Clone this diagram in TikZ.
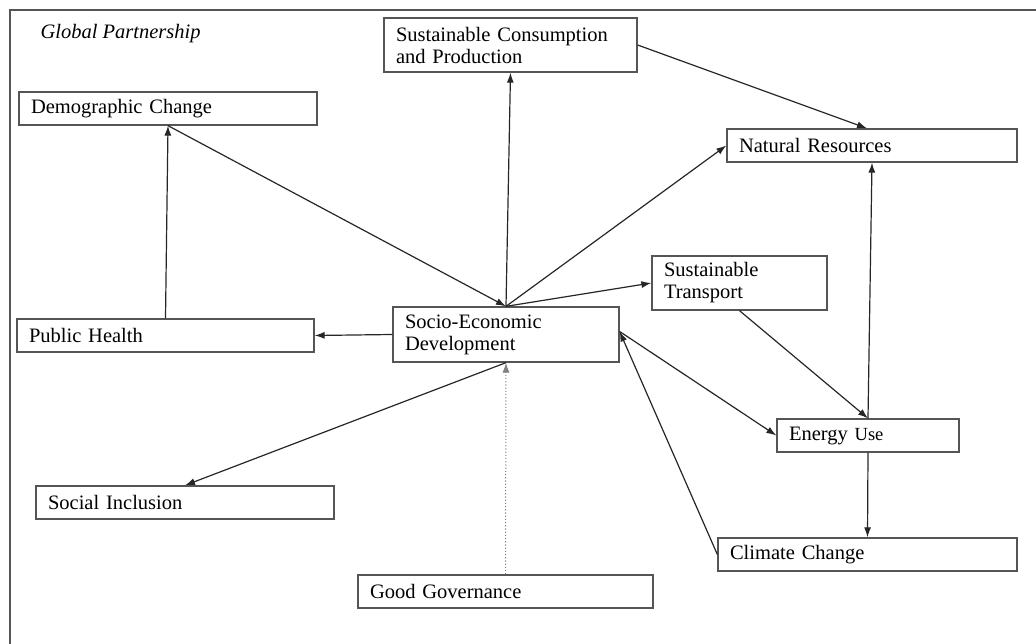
\documentclass[tikz,border=0pt]{standalone}
\usepackage{fontspec}
\setmainfont{Liberation Serif}
\usetikzlibrary{arrows.meta}
\definecolor{boxgray}{HTML}{555555}
\tikzset{
  box/.style={draw=boxgray, line width=1.3pt, inner xsep=12pt, inner ysep=0pt, align=left,
    font=\fontsize{20.5}{22}\selectfont},
  conn/.style={line width=1.2pt, draw=black!85, -{Latex[length=10pt,width=7pt]}},
}
\newcommand{\bx}[7]{% name, x1, y1, x2, y2, text
  \pgfmathsetmacro{\cxx}{(#2+#4)/2}\pgfmathsetmacro{\cyy}{(#3+#5)/2}%
  \pgfmathsetmacro{\ww}{#4-#2}\pgfmathsetmacro{\hh}{#5-#3}\pgfmathsetmacro{\tw}{#4-#2-24}%
  \node[box, minimum width=\ww pt, minimum height=\hh pt, text width=\tw pt] (#1) at (\cxx,\cyy) {#6};}
\begin{document}
\begin{tikzpicture}[x=1pt,y=-1pt]
\useasboundingbox (0,0) rectangle (1036,644);
\draw[boxgray, line width=1.3pt] (10,650) -- (10,10) -- (1040,10);
\node[font=\fontsize{20.5}{22}\selectfont\itshape, anchor=west] (gp) at (37,34) {Global Partnership};
\bx{scp}{384}{18}{637}{72}{Sustainable Consumption\\and Production}{}
\bx{dc}{19}{92}{317}{125}{Demographic Change}{}
\bx{nr}{727}{129}{1017}{162}{Natural Resources}{}
\bx{st}{652}{256}{827}{310}{Sustainable\\Transport}{}
\bx{sed}{393}{307}{619}{362}{Socio-Economic\\Development}{}
\bx{ph}{17}{319}{314}{352}{Public Health}{}
\bx{si}{36}{486}{334}{519}{Social Inclusion}{}
\bx{gg}{358}{575}{653}{608}{Good Governance}{}
\bx{eu}{777}{419}{959}{452}{Energy {\fontsize{18.5}{20}\selectfont Use}}{}
\bx{cc}{718}{538}{1017}{571}{Climate Change}{}
\draw[conn] (sed.north) -- (scp.south);
\draw[conn] (scp.east) -- ([xshift=-5pt]nr.north);
\draw[conn] (sed.north) -- (nr.west);
\draw[conn] (sed.north) -- (st.west);
\draw[conn] (dc.south) -- (sed.north);
\draw[conn] (ph.north) -- (dc.south);
\draw[conn] (sed.west) -- (ph.east);
\draw[conn] (sed.south) -- (si.north);
\draw[conn, draw=gray, dotted, line width=1pt] (gg.north) -- (sed.south);
\draw[conn] (st.south) -- (eu.north);
\draw[conn] (eu.north) -- (nr.south);
\draw[conn] (eu.south) -- (cc.north);
\draw[conn] ([yshift=3pt]sed.east) -- (eu.west);
\draw[conn] (cc.west) -- ([yshift=3pt]sed.east);
\end{tikzpicture}
\end{document}
